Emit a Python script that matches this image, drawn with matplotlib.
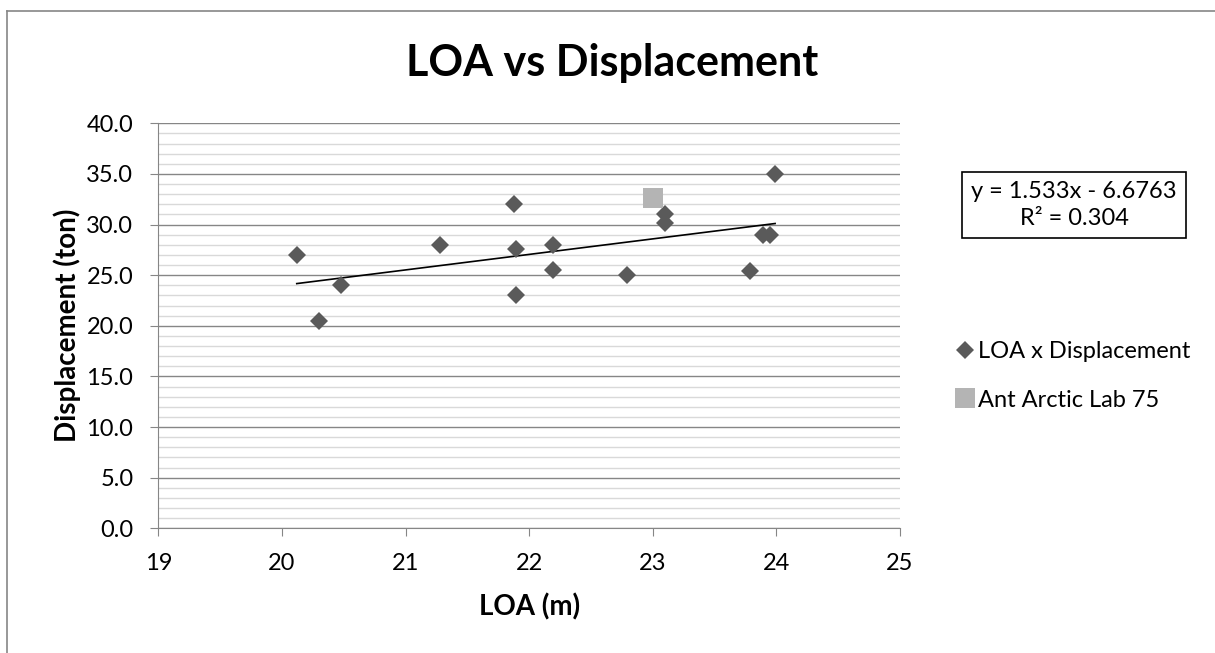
import matplotlib.pyplot as plt
import numpy as np
from matplotlib.lines import Line2D
from matplotlib.ticker import MultipleLocator, FormatStrFormatter

plt.rcParams['font.family'] = ['Lato', 'DejaVu Sans']

# boats: LOA (m) vs displacement (ton)
loa = [20.12, 20.30, 20.48, 21.28, 21.88, 21.89, 21.89, 22.19, 22.19,
       22.79, 23.10, 23.10, 23.79, 23.89, 23.95, 23.99]
displacement = [27.0, 20.5, 24.0, 28.0, 32.0, 27.6, 23.0, 28.0, 25.5,
                25.0, 31.0, 30.2, 25.4, 29.0, 29.0, 35.0]

lab_loa = [23.0]
lab_displacement = [32.6]

# trendline as reported on the chart
slope = 1.533
intercept = -6.6763
r_squared = 0.304

fig = plt.figure(figsize=(12.15, 6.53), dpi=100)
ax = fig.add_axes([0.1303, 0.1910, 0.6104, 0.6202])

ax.yaxis.set_major_locator(MultipleLocator(5))
ax.yaxis.set_minor_locator(MultipleLocator(1))
ax.yaxis.set_major_formatter(FormatStrFormatter('%.1f'))
ax.grid(True, axis='y', which='major', color='#868686', lw=1.0)
ax.grid(True, axis='y', which='minor', color='#d9d9d9', lw=1.0)
ax.set_axisbelow(True)

xs = np.array([min(loa), max(loa)])
ax.plot(xs, slope * xs + intercept, color='black', lw=1.2, zorder=2)

ax.plot(loa, displacement, 'D', color='#5a5a5a', markersize=9.5,
        markeredgewidth=0, label='LOA x Displacement', zorder=3)
ax.plot(lab_loa, lab_displacement, 's', color='#b4b4b4', markersize=14,
        markeredgewidth=0, label='Ant Arctic Lab 75', zorder=3)

ax.set_xlim(19, 25)
ax.set_ylim(0, 40)
ax.set_xticks(range(19, 26))

for side in ['top', 'right']:
    ax.spines[side].set_visible(False)
for side in ['left', 'bottom']:
    ax.spines[side].set_color('#868686')
ax.tick_params(which='major', length=6, color='#868686', labelsize=17, pad=12)
ax.tick_params(which='minor', length=0)

ax.set_xlabel('LOA (m)', fontsize=20, fontweight='bold', labelpad=14)
ax.set_ylabel('Displacement (ton)', fontsize=20, fontweight='bold', labelpad=4)
fig.text(0.504, 1 - 63 / 653, 'LOA vs Displacement', fontsize=31, fontweight='bold',
         ha='center', va='center')

fig.text(1074 / 1215, 1 - 205 / 653,
         f'y = {slope}x - {abs(intercept)}\nR² = {r_squared}',
         fontsize=17, ha='center', va='center', multialignment='center',
         linespacing=1.3,
         bbox=dict(boxstyle='square,pad=0.4', facecolor='white',
                   edgecolor='black', lw=1.2))

fig.legend(loc='center left', bbox_to_anchor=(0.777, 1 - 376 / 653),
           frameon=False, fontsize=17, handletextpad=0.05, labelspacing=1.15,
           borderaxespad=0, handlelength=1.0)

# chart border (top and left edges visible)
fig.add_artist(Line2D([7 / 1215, 7 / 1215], [0, 1 - 11 / 653],
                      color='#868686', lw=1.2))
fig.add_artist(Line2D([7 / 1215, 1], [1 - 11 / 653, 1 - 11 / 653],
                      color='#868686', lw=1.2))

fig.savefig('out.png', dpi=100)
